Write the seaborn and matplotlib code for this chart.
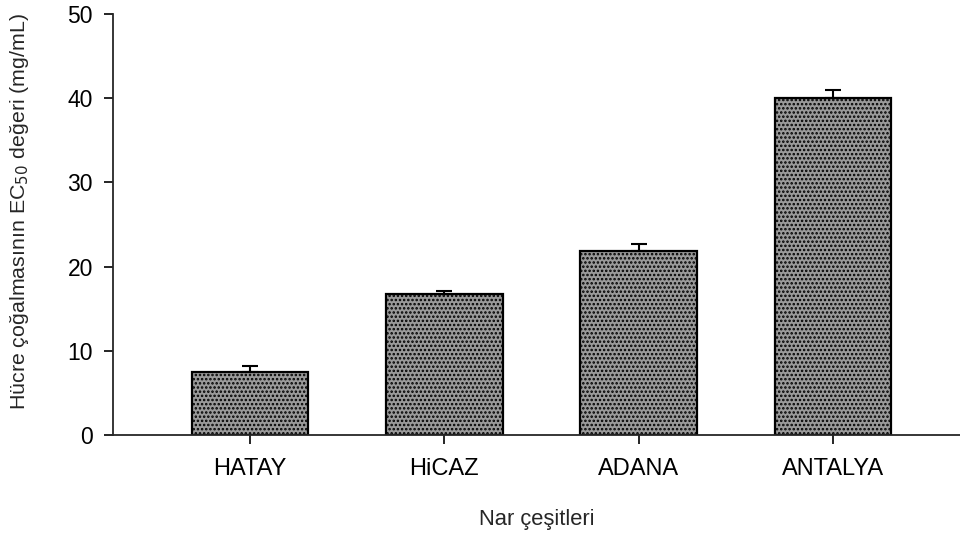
import matplotlib
matplotlib.use("Agg")
import matplotlib.pyplot as plt
import seaborn as sns
import pandas as pd

categories = ["HATAY", "HiCAZ", "ADANA", "ANTALYA"]
values = [7.5, 16.75, 21.9, 40.0]
errors = [0.65, 0.35, 0.8, 0.95]
y_ticks = [0, 10, 20, 30, 40, 50]

sns.set_theme(style="ticks")
plt.rcParams["font.family"] = ["Liberation Sans", "DejaVu Sans"]
plt.rcParams["hatch.color"] = "#333333"
plt.rcParams["hatch.linewidth"] = 1.2

df = pd.DataFrame({"cat": categories, "val": values})

fig = plt.figure(figsize=(9.6, 5.36), dpi=100)
ax = fig.add_axes([0.1177, 0.1884, 0.8823, 0.7854])

sns.barplot(data=df, x="cat", y="val", order=categories, color="#959595",
            width=0.6, edgecolor="black", linewidth=1.6, saturation=1,
            errorbar=None, ax=ax)
for p in ax.patches:
    p.set_hatch("....")
    p.set_facecolor("#9a9a9a")

ax.errorbar(range(len(categories)), values, yerr=[[0] * len(errors), errors],
            fmt="none", ecolor="black", elinewidth=1.5, capsize=5.8, capthick=1.5)

ax.set_ylim(0, 50)
ax.set_yticks(y_ticks)
ax.set_xlim(-0.705, 3.654)
sns.despine(ax=ax)
for s in ["left", "bottom"]:
    ax.spines[s].set_linewidth(1.3)
ax.tick_params(axis="both", direction="out", length=6.5, width=1.2, colors="black")
ax.tick_params(axis="x", pad=10, labelsize=17)
ax.tick_params(axis="y", pad=8, labelsize=16.5)

ax.set_xlabel("Nar çeşitleri", fontsize=15.8, labelpad=21)
ax.set_ylabel("Hücre çoğalmasının EC$_{50}$ değeri (mg/mL)", fontsize=15.4)
ax.yaxis.set_label_coords(-0.097, 0.53)

fig.savefig("out.png", dpi=100)
